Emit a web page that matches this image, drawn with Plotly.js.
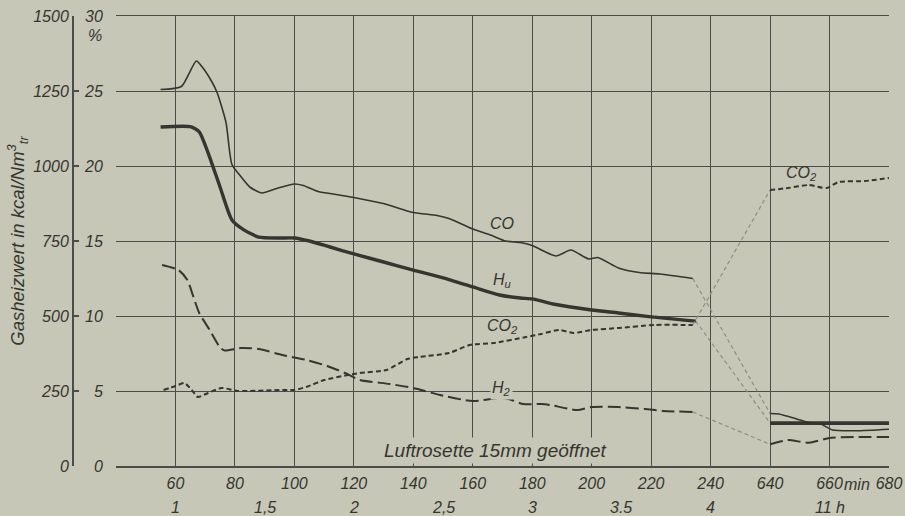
<!DOCTYPE html>
<html><head><meta charset="utf-8">
<script src="https://cdn.plot.ly/plotly-3.0.1.min.js"></script>
<style>html,body{margin:0;padding:0;background:#c6c7b7;}</style>
</head><body><div id="chart" style="width:905px;height:516px;"></div>
<script>
// ---- data (time in minutes) ----
const minuteTicks = [60, 80, 100, 120, 140, 160, 180, 200, 220, 240, 640, 660, 680];
const minuteTickLabels = ['60', '80', '100', '120', '140', '160', '180', '200', '220', '240', '640', '660', '680'];
const hourTicks = [60, 90, 120, 150, 180, 210, 240, 660];
const hourLabels = ['1', '1,5', '2', '2,5', '3', '3.5', '4', '11 h'];
const kcalTicks = [0, 250, 500, 750, 1000, 1250, 1500];
const pctTicks = [0, 5, 10, 15, 20, 25, 30];

// CO in %
const coTimeA = [55, 62, 67, 69, 72, 74, 77, 79, 82, 85, 89, 94, 100, 103, 108, 114, 120, 125, 130, 140, 148, 152, 160, 166, 171, 176, 180, 188, 193, 199, 202, 209, 216, 223, 234];
const coA = [25.1, 25.3, 27.0, 26.6, 25.7, 24.9, 22.9, 20.1, 19.3, 18.6, 18.2, 18.5, 18.8, 18.7, 18.3, 18.1, 17.9, 17.7, 17.5, 16.9, 16.7, 16.5, 15.8, 15.4, 15.0, 14.9, 14.7, 14.0, 14.4, 13.8, 13.9, 13.2, 12.9, 12.8, 12.5];
const coTimeB = [640, 643, 649, 653, 657, 661, 669, 680];
const coB = [3.5, 3.47, 3.13, 2.9, 2.8, 2.4, 2.35, 2.45];

// Hu in kcal/Nm3
const huTimeA = [55, 65, 68, 71, 75, 79, 83, 88, 95, 100, 105, 112, 120, 130, 140, 150, 160, 169, 176, 180, 187, 200, 209, 220, 235];
const huA = [1130, 1131, 1114, 1043, 930, 820, 787, 763, 760, 760, 750, 730, 707, 680, 653, 627, 597, 570, 560, 557, 540, 520, 510, 497, 483];
const huTimeB = [640, 680];
const huB = [143, 143];

// CO2 in %
const co2TimeA = [56, 60, 63, 65.5, 67.5, 71, 75.5, 81, 96, 100, 104, 110, 118, 122, 131, 138, 142, 152, 159, 167, 178, 183, 189, 194, 200, 209, 221, 234];
const co2A = [5.07, 5.33, 5.53, 5.07, 4.6, 4.87, 5.2, 5.0, 5.07, 5.07, 5.27, 5.73, 6.07, 6.2, 6.4, 7.13, 7.27, 7.53, 8.07, 8.2, 8.6, 8.8, 9.07, 8.87, 9.07, 9.2, 9.4, 9.4];
const co2TimeB = [640, 646, 653, 659, 663, 672, 680];
const co2B = [18.4, 18.53, 18.73, 18.53, 18.93, 19.0, 19.2];

// H2 in %
const h2TimeA = [55.5, 61, 64, 66, 68, 71.5, 75, 76.5, 82, 88, 96, 104, 111, 117, 122, 132, 140, 149, 160, 169, 172, 177, 183, 186, 195, 200, 209, 218, 224, 234];
const h2A = [13.4, 13.07, 12.4, 11.3, 10.2, 9.07, 7.9, 7.7, 7.87, 7.8, 7.4, 7.07, 6.67, 6.2, 5.73, 5.47, 5.2, 4.73, 4.33, 4.53, 4.47, 4.13, 4.13, 4.07, 3.73, 3.93, 3.93, 3.8, 3.67, 3.6];
const h2TimeB = [640, 646, 653, 660, 668, 680];
const h2B = [1.45, 1.73, 1.55, 1.87, 1.93, 1.93];

// ---- broken time axis: 240 min is followed directly by 640 min ----
const BREAK_FROM = 240, BREAK_TO = 640, GAP = 20;
function mapT(t) { return t <= BREAK_FROM ? t : t - (BREAK_TO - BREAK_FROM - GAP); }
const mapArr = a => a.map(mapT);

const BG = '#c6c7b7';
const INK = '#35362f';
const GRID = '#4c4d46';
const CONN = '#8d8e84';
const FONT = {family: 'Liberation Sans, Arial, sans-serif', size: 16, color: INK, style: 'italic'};

function seg(x, y, yaxis, width, dash, color) {
  return {x: mapArr(x), y: y, yaxis: yaxis, type: 'scatter', mode: 'lines',
    line: {color: color || INK, width: width, dash: dash, shape: 'spline', smoothing: 0.6},
    hoverinfo: 'skip', showlegend: false};
}
function conn(xa, ya, xb, yb, yaxis) {
  return {x: [mapT(xa[xa.length - 1]), mapT(xb[0])], y: [ya[ya.length - 1], yb[0]], yaxis: yaxis,
    type: 'scatter', mode: 'lines', line: {color: CONN, width: 1.2, dash: '4px,3px'},
    hoverinfo: 'skip', showlegend: false};
}

const traces = [
  conn(coTimeA, coA, coTimeB, coB, 'y2'),
  conn(huTimeA, huA, huTimeB, huB, 'y'),
  conn(co2TimeA, co2A, co2TimeB, co2B, 'y2'),
  conn(h2TimeA, h2A, h2TimeB, h2B, 'y2'),
  seg(coTimeA, coA, 'y2', 1.6, 'solid'),
  seg(coTimeB, coB, 'y2', 1.6, 'solid'),
  seg(huTimeA, huA, 'y', 3.4, 'solid'),
  seg(huTimeB, huB, 'y', 3.6, 'solid'),
  seg(co2TimeA, co2A, 'y2', 2, '5px,3px'),
  seg(co2TimeB, co2B, 'y2', 2, '5px,3px'),
  seg(h2TimeA, h2A, 'y2', 2, '13px,5px'),
  seg(h2TimeB, h2B, 'y2', 2, '13px,5px')
];

const L = 60, R = 16, T = 16, B = 50, W = 905, H = 516;
const pw = W - L - R;
const xDomStart = (116 - L) / pw;
const kcalPos = (72 - L) / pw;

const annotations = [];
hourTicks.forEach((t, i) => annotations.push({
  x: mapT(t), xref: 'x', y: (466 - 508) / 450, yref: 'paper', text: hourLabels[i],
  showarrow: false, font: FONT, xanchor: 'center', yanchor: 'middle'}));
annotations.push({x: 289.4, xref: 'x', y: (466 - 484) / 450, yref: 'paper', text: 'min',
  showarrow: false, font: FONT, xanchor: 'center', yanchor: 'middle'});
annotations.push({x: (95 - L) / pw, xref: 'paper', y: (466 - 36) / 450, yref: 'paper', text: '%',
  showarrow: false, font: FONT, xanchor: 'center', yanchor: 'middle'});
const lbl = (x, y, text, bg) => ({x: x, xref: 'x', y: y, yref: 'y2', text: text, showarrow: false,
  font: FONT, xanchor: 'center', yanchor: 'middle', bgcolor: bg || 'rgba(0,0,0,0)'});
annotations.push(lbl(169.7, 16.2, 'CO'));
annotations.push(lbl(169.7, 12.4, 'H<sub>u</sub>'));
annotations.push(lbl(170, 9.3, 'CO<sub>2</sub>'));
annotations.push(lbl(169.7, 5.2, 'H<sub>2</sub>', BG));
annotations.push(lbl(270.6, 19.5, 'CO<sub>2</sub>'));
annotations.push({x: 167.7, xref: 'x', y: 1.05, yref: 'y2', text: 'Luftrosette 15mm geöffnet',
  showarrow: false, font: Object.assign({}, FONT, {size: 19}), xanchor: 'center', yanchor: 'middle',
  bgcolor: BG, borderpad: 2});

const layout = {
  width: W, height: H,
  margin: {l: L, r: R, t: T, b: B, pad: 0},
  paper_bgcolor: BG, plot_bgcolor: BG,
  font: FONT,
  showlegend: false,
  xaxis: {
    domain: [xDomStart, 1], range: [40, mapT(680)],
    tickvals: mapArr(minuteTicks), ticktext: minuteTickLabels,
    showgrid: true, gridcolor: GRID, gridwidth: 1,
    showline: true, mirror: true, linecolor: GRID, linewidth: 1.5,
    ticks: '', ticklabelstandoff: 2, zeroline: false, tickfont: FONT, fixedrange: true
  },
  yaxis: {
    domain: [0, 1], range: [0, 1500], tickvals: kcalTicks,
    anchor: 'free', position: kcalPos, side: 'left',
    showline: true, linecolor: GRID, linewidth: 1.5,
    ticks: 'inside', ticklen: 5, tickcolor: GRID, tickwidth: 1.2,
    showgrid: false, zeroline: false, tickfont: FONT,
    title: {text: 'Gasheizwert in kcal/Nm<sup>3</sup><sub>tr</sub>', font: Object.assign({}, FONT, {size: 18.5}), standoff: 2},
    automargin: false, fixedrange: true
  },
  yaxis2: {
    overlaying: 'y', anchor: 'x', side: 'left', range: [0, 30], tickvals: pctTicks,
    showgrid: true, gridcolor: GRID, gridwidth: 1, showline: false, zeroline: false,
    ticks: 'outside', ticklen: 9, tickcolor: 'rgba(0,0,0,0)', tickfont: FONT,
    automargin: false, fixedrange: true
  },
  annotations: annotations
};

Plotly.newPlot('chart', traces, layout, {displayModeBar: false, staticPlot: true});
</script>
</body></html>
